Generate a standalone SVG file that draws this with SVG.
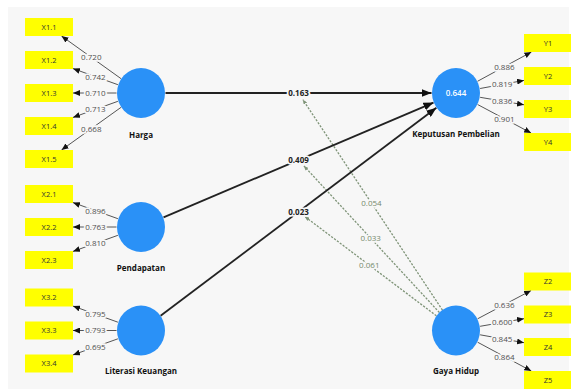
<svg xmlns="http://www.w3.org/2000/svg" width="571" height="392" viewBox="0 0 571 392">
  <style>
    .bg { fill: #f7f7f7; }
    .lv { fill: #2a91f7; }
    .ind { fill: #ffff00; }
    .indtxt { font-family: "Open Sans", "Liberation Sans", sans-serif; font-size: 7.5px; fill: #333333; text-anchor: middle; }
    .name { font-family: "Open Sans", "Liberation Sans", sans-serif; font-size: 8px; font-weight: bold; fill: #111111; text-anchor: middle; }
    .r2 { font-family: "Open Sans", "Liberation Sans", sans-serif; font-size: 8px; font-weight: 600; fill: #ffffff; text-anchor: middle; }
    .load { stroke: #555555; stroke-width: 1; fill: none; }
    .path { stroke: #222222; stroke-width: 1.8; fill: none; }
    .mod { stroke: #7f9478; stroke-width: 1.3; stroke-dasharray: 2.2 1.4; fill: none; }
    .lbl { font-family: "Open Sans", "Liberation Sans", sans-serif; font-size: 8px; fill: #505050; text-anchor: middle; stroke: #f7f7f7; stroke-width: 3.5; paint-order: stroke; stroke-linejoin: round; }
    .plbl { font-family: "Open Sans", "Liberation Sans", sans-serif; font-size: 8px; font-weight: bold; fill: #222222; text-anchor: middle; stroke: #f7f7f7; stroke-width: 3.5; paint-order: stroke; stroke-linejoin: round; }
    .mlbl { font-family: "Open Sans", "Liberation Sans", sans-serif; font-size: 8px; fill: #76896c; text-anchor: middle; stroke: #f7f7f7; stroke-width: 3.5; paint-order: stroke; stroke-linejoin: round; }
  </style>
  <defs>
    <marker id="ah" markerUnits="userSpaceOnUse" markerWidth="8" markerHeight="6" refX="7" refY="3" orient="auto">
      <path d="M0,0 L7,3 L0,6 Z" fill="#111"/>
    </marker>
    <marker id="ahBig" markerUnits="userSpaceOnUse" markerWidth="11" markerHeight="8" refX="10" refY="4" orient="auto">
      <path d="M0,0 L10,4 L0,8 Z" fill="#111"/>
    </marker>
    <marker id="ahMod" markerUnits="userSpaceOnUse" markerWidth="5" markerHeight="4" refX="4.5" refY="2" orient="auto">
      <path d="M0,0 L4.5,2 L0,4 Z" fill="#7f9478"/>
    </marker>
  </defs>

  <rect class="bg" x="8" y="7" width="561" height="382"/>

  <!-- connectors -->
  <g id="connectors">
    <!-- outer loadings: Harga -->
    <line class="load" x1="121.1" y1="78.7" x2="61.5" y2="36" marker-end="url(#ah)"/>
    <line class="load" x1="117.9" y1="84.7" x2="73" y2="68.6" marker-end="url(#ah)"/>
    <line class="load" x1="116.5" y1="93" x2="73" y2="93" marker-end="url(#ah)"/>
    <line class="load" x1="117.9" y1="101.3" x2="73" y2="117.4" marker-end="url(#ah)"/>
    <line class="load" x1="121.1" y1="107.3" x2="61.5" y2="150" marker-end="url(#ah)"/>
    <!-- Pendapatan -->
    <line class="load" x1="117.9" y1="218.7" x2="73" y2="202.6" marker-end="url(#ah)"/>
    <line class="load" x1="116.5" y1="227" x2="73" y2="227" marker-end="url(#ah)"/>
    <line class="load" x1="117.9" y1="235.3" x2="73" y2="251.4" marker-end="url(#ah)"/>
    <!-- Literasi Keuangan -->
    <line class="load" x1="117.9" y1="322.2" x2="73" y2="306.1" marker-end="url(#ah)"/>
    <line class="load" x1="116.5" y1="330.5" x2="73" y2="330.5" marker-end="url(#ah)"/>
    <line class="load" x1="117.9" y1="338.8" x2="73" y2="354.9" marker-end="url(#ah)"/>
    <!-- Keputusan Pembelian -->
    <line class="load" x1="477.5" y1="81.3" x2="531.4" y2="52" marker-end="url(#ah)"/>
    <line class="load" x1="480.1" y1="88.5" x2="524" y2="80.4" marker-end="url(#ah)"/>
    <line class="load" x1="480.1" y1="97.3" x2="524" y2="104.8" marker-end="url(#ah)"/>
    <line class="load" x1="477.6" y1="104.5" x2="531.1" y2="133" marker-end="url(#ah)"/>
    <!-- Gaya Hidup -->
    <line class="load" x1="477.6" y1="318.8" x2="531.1" y2="290.5" marker-end="url(#ah)"/>
    <line class="load" x1="480.1" y1="326.3" x2="524" y2="318.7" marker-end="url(#ah)"/>
    <line class="load" x1="480.1" y1="334.8" x2="524" y2="342.7" marker-end="url(#ah)"/>
    <line class="load" x1="477.6" y1="342.2" x2="531.3" y2="371" marker-end="url(#ah)"/>

    <!-- moderating effects -->
    <line class="mod" x1="442.5" y1="310.1" x2="302.9" y2="99.7" marker-end="url(#ahMod)"/>
    <line class="mod" x1="439.4" y1="312.5" x2="303.9" y2="165.9" marker-end="url(#ahMod)"/>
    <line class="mod" x1="436.4" y1="315.8" x2="304.9" y2="216.6" marker-end="url(#ahMod)"/>

    <!-- structural paths -->
    <line class="path" x1="165.5" y1="93" x2="431.5" y2="93" marker-end="url(#ahBig)"/>
    <line class="path" x1="163.5" y1="217.4" x2="433.5" y2="102.6" marker-end="url(#ahBig)"/>
    <line class="path" x1="160.6" y1="315.8" x2="436.4" y2="107.8" marker-end="url(#ahBig)"/>

    <!-- loading values -->
    <text class="lbl" x="91.3" y="60.3">0.720</text>
    <text class="lbl" x="95.5" y="79.5">0.742</text>
    <text class="lbl" x="95.5" y="95.9">0.710</text>
    <text class="lbl" x="95.5" y="112.3">0.713</text>
    <text class="lbl" x="91.3" y="131.5">0.668</text>
    <text class="lbl" x="95.5" y="213.5">0.896</text>
    <text class="lbl" x="95.5" y="229.9">0.763</text>
    <text class="lbl" x="95.5" y="246.3">0.810</text>
    <text class="lbl" x="95.5" y="317">0.795</text>
    <text class="lbl" x="95.5" y="333.4">0.793</text>
    <text class="lbl" x="95.5" y="349.8">0.695</text>
    <text class="lbl" x="504.4" y="69.6">0.886</text>
    <text class="lbl" x="502.1" y="87.4">0.819</text>
    <text class="lbl" x="502.1" y="103.9">0.836</text>
    <text class="lbl" x="504.4" y="121.7">0.901</text>
    <text class="lbl" x="504.4" y="307.6">0.636</text>
    <text class="lbl" x="502.1" y="325.4">0.600</text>
    <text class="lbl" x="502.1" y="341.7">0.845</text>
    <text class="lbl" x="504.4" y="359.5">0.864</text>

    <!-- path coefficients -->
    <text class="plbl" x="298.5" y="95.9">0.163</text>
    <text class="plbl" x="298.5" y="162.7">0.409</text>
    <text class="plbl" x="298.5" y="214.7">0.023</text>

    <!-- moderating coefficients -->
    <text class="mlbl" x="371.5" y="205.7">0.054</text>
    <text class="mlbl" x="370.7" y="240.6">0.033</text>
    <text class="mlbl" x="369.3" y="267.9">0.061</text>
  </g>

  <!-- latent variables -->
  <g id="harga">
    <ellipse class="lv" cx="141" cy="93" rx="24" ry="25"/>
    <text class="name" x="141" y="138">Harga</text>
  </g>
  <g id="pendapatan">
    <ellipse class="lv" cx="141" cy="227" rx="24" ry="25"/>
    <text class="name" x="141" y="270.5">Pendapatan</text>
  </g>
  <g id="literasi-keuangan">
    <ellipse class="lv" cx="141" cy="330.5" rx="24" ry="25"/>
    <text class="name" x="141" y="374">Literasi Keuangan</text>
  </g>
  <g id="keputusan-pembelian">
    <ellipse class="lv" cx="456" cy="93" rx="24" ry="25"/>
    <text class="r2" x="456" y="95.8">0.644</text>
    <text class="name" x="456" y="137">Keputusan Pembelian</text>
  </g>
  <g id="gaya-hidup">
    <ellipse class="lv" cx="456" cy="330.5" rx="24" ry="25"/>
    <text class="name" x="456" y="374">Gaya Hidup</text>
  </g>

  <!-- indicators -->
  <g id="X1.1"><rect class="ind" x="25" y="18" width="48" height="18"/><text class="indtxt" x="49" y="29.7">X1.1</text></g>
  <g id="X1.2"><rect class="ind" x="25" y="51" width="48" height="18"/><text class="indtxt" x="49" y="62.7">X1.2</text></g>
  <g id="X1.3"><rect class="ind" x="25" y="84" width="48" height="18"/><text class="indtxt" x="49" y="95.7">X1.3</text></g>
  <g id="X1.4"><rect class="ind" x="25" y="117" width="48" height="18"/><text class="indtxt" x="49" y="128.7">X1.4</text></g>
  <g id="X1.5"><rect class="ind" x="25" y="150" width="48" height="18"/><text class="indtxt" x="49" y="161.7">X1.5</text></g>

  <g id="X2.1"><rect class="ind" x="25" y="185" width="48" height="18"/><text class="indtxt" x="49" y="196.7">X2.1</text></g>
  <g id="X2.2"><rect class="ind" x="25" y="218" width="48" height="18"/><text class="indtxt" x="49" y="229.7">X2.2</text></g>
  <g id="X2.3"><rect class="ind" x="25" y="251" width="48" height="18"/><text class="indtxt" x="49" y="262.7">X2.3</text></g>

  <g id="X3.2"><rect class="ind" x="25" y="288.5" width="48" height="18"/><text class="indtxt" x="49" y="300.2">X3.2</text></g>
  <g id="X3.3"><rect class="ind" x="25" y="321.5" width="48" height="18"/><text class="indtxt" x="49" y="333.2">X3.3</text></g>
  <g id="X3.4"><rect class="ind" x="25" y="354.5" width="48" height="18"/><text class="indtxt" x="49" y="366.2">X3.4</text></g>

  <g id="Y1"><rect class="ind" x="524" y="34" width="48" height="18"/><text class="indtxt" x="548" y="45.7">Y1</text></g>
  <g id="Y2"><rect class="ind" x="524" y="67" width="48" height="18"/><text class="indtxt" x="548" y="78.7">Y2</text></g>
  <g id="Y3"><rect class="ind" x="524" y="100" width="48" height="18"/><text class="indtxt" x="548" y="111.7">Y3</text></g>
  <g id="Y4"><rect class="ind" x="524" y="133" width="48" height="18"/><text class="indtxt" x="548" y="144.7">Y4</text></g>

  <g id="Z2"><rect class="ind" x="524" y="272.5" width="48" height="18"/><text class="indtxt" x="548" y="284.2">Z2</text></g>
  <g id="Z3"><rect class="ind" x="524" y="305.5" width="48" height="18"/><text class="indtxt" x="548" y="317.2">Z3</text></g>
  <g id="Z4"><rect class="ind" x="524" y="338" width="48" height="18"/><text class="indtxt" x="548" y="349.7">Z4</text></g>
  <g id="Z5"><rect class="ind" x="524" y="371" width="48" height="18"/><text class="indtxt" x="548" y="382.7">Z5</text></g>
</svg>
